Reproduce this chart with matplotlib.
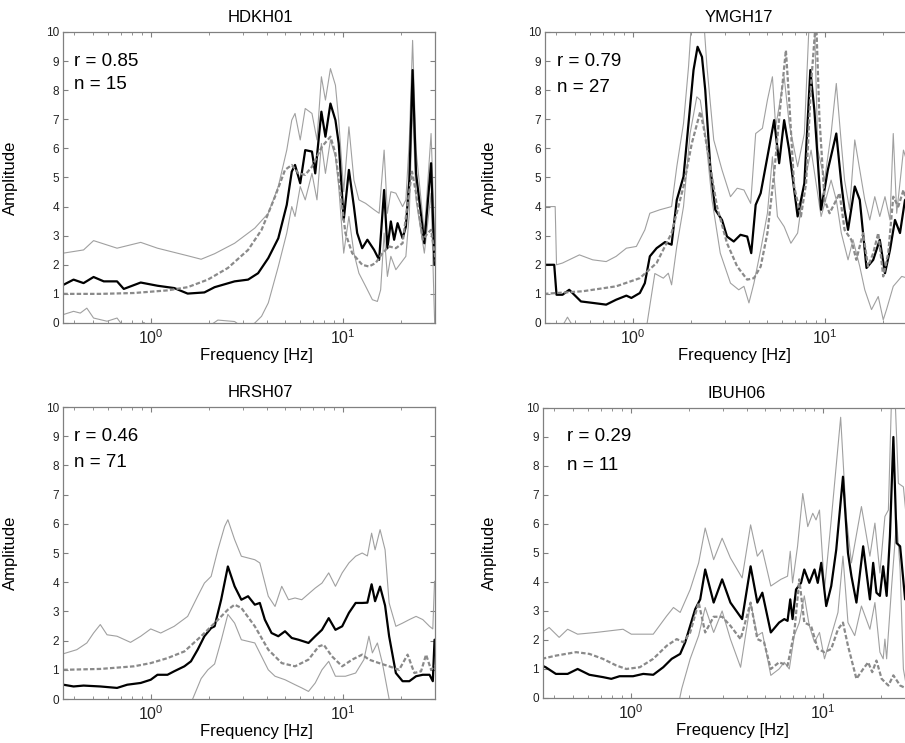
import numpy as np
import matplotlib
matplotlib.use("Agg")
import matplotlib.pyplot as plt
from matplotlib.ticker import LogLocator, NullFormatter

plt.rcParams["font.family"] = ["Liberation Sans", "DejaVu Sans"]

#   station names and statistics shown in each panel
stations = ["HDKH01", "YMGH17", "HRSH07", "IBUH06"]
r_values = [0.85, 0.79, 0.46, 0.29]
n_values = [15, 27, 71, 11]

#   curves as (log10 frequency [Hz], amplitude) pairs
#   mean = observed mean, upper/lower = mean +/- sigma, model = theoretical
hd_mean = [(-0.454, 1.31), (-0.401, 1.49), (-0.349, 1.37), (-0.297, 1.58), (-0.244, 1.43), (-0.175, 1.43),
           (-0.140, 1.17), (-0.052, 1.39), (0.035, 1.28), (0.122, 1.20), (0.192, 1.01), (0.279, 1.05),
           (0.332, 1.23), (0.436, 1.43), (0.506, 1.49), (0.558, 1.71), (0.611, 2.23), (0.663, 2.91),
           (0.707, 4.06), (0.733, 5.20), (0.750, 5.43), (0.777, 4.80), (0.803, 5.94), (0.838, 5.89),
           (0.855, 5.14), (0.887, 7.26), (0.908, 6.40), (0.934, 7.54), (0.960, 6.97), (0.977, 6.17),
           (1.003, 3.54), (1.030, 5.26), (1.056, 4.00), (1.073, 3.09), (1.099, 2.57), (1.126, 2.86),
           (1.161, 2.51), (1.187, 2.17), (1.213, 4.57), (1.230, 2.57), (1.248, 3.49), (1.265, 2.86),
           (1.283, 3.43), (1.309, 2.91), (1.326, 3.31), (1.344, 4.91), (1.361, 8.69), (1.379, 5.14),
           (1.422, 2.74), (1.457, 5.49), (1.475, 2.00), (1.492, 2.00)]
hd_upper = [(-0.454, 2.40), (-0.349, 2.51), (-0.297, 2.83), (-0.175, 2.57), (-0.052, 2.77), (0.035, 2.57),
            (0.192, 2.31), (0.262, 2.19), (0.332, 2.38), (0.436, 2.74), (0.541, 3.26), (0.611, 3.77),
            (0.663, 4.69), (0.707, 5.94), (0.733, 6.97), (0.750, 7.20), (0.777, 6.29), (0.803, 7.37),
            (0.838, 7.20), (0.864, 6.29), (0.887, 8.46), (0.908, 7.66), (0.934, 8.74), (0.960, 8.17),
            (0.977, 6.97), (1.003, 4.51), (1.030, 6.74), (1.056, 4.91), (1.082, 4.23), (1.117, 4.11),
            (1.161, 3.89), (1.187, 3.77), (1.213, 5.94), (1.230, 3.77), (1.248, 4.51), (1.274, 4.46),
            (1.309, 4.00), (1.326, 4.23), (1.344, 6.29), (1.361, 9.71), (1.379, 5.94), (1.422, 3.09),
            (1.457, 6.51), (1.475, 3.09), (1.492, 1.14)]
hd_lower = [(-0.454, 0.29), (-0.401, 0.40), (-0.366, 0.34), (-0.332, 0.51), (-0.297, 0.17), (-0.227, 0.06),
            (-0.175, 0.17), (-0.122, -0.30), (-0.035, 0.02), (0.000, -0.30), (0.122, -0.50), (0.262, -0.30),
            (0.349, 0.10), (0.436, 0.05), (0.489, -0.20), (0.541, 0.00), (0.576, 0.23), (0.611, 0.69),
            (0.663, 1.94), (0.707, 3.09), (0.733, 4.00), (0.750, 3.66), (0.777, 4.69), (0.803, 4.23),
            (0.838, 5.14), (0.864, 4.23), (0.887, 6.17), (0.908, 5.14), (0.934, 6.29), (0.960, 5.71),
            (0.977, 4.69), (1.003, 2.40), (1.030, 3.66), (1.056, 2.40), (1.082, 1.71), (1.117, 1.26),
            (1.152, 0.80), (1.178, 0.74), (1.195, 1.14), (1.213, 3.09), (1.230, 1.60), (1.248, 2.29),
            (1.274, 1.83), (1.300, 2.06), (1.326, 2.29), (1.344, 3.77), (1.361, 7.54), (1.379, 4.23),
            (1.422, 2.40), (1.457, 4.46), (1.471, 1.03), (1.478, -0.50), (1.492, -0.50)]
hd_model = [(-0.454, 1.00), (-0.262, 1.00), (-0.087, 1.03), (0.087, 1.12), (0.192, 1.23), (0.297, 1.49),
            (0.401, 1.89), (0.506, 2.51), (0.576, 3.20), (0.646, 4.34), (0.698, 5.26), (0.733, 5.43),
            (0.768, 5.14), (0.803, 5.09), (0.838, 5.37), (0.890, 6.06), (0.934, 6.40), (0.960, 5.83),
            (0.986, 4.46), (1.012, 3.09), (1.047, 2.40), (1.099, 2.00), (1.134, 1.94), (1.169, 2.06),
            (1.204, 2.40), (1.239, 2.63), (1.274, 2.57), (1.309, 2.74), (1.335, 4.11), (1.358, 5.20),
            (1.379, 4.46), (1.414, 2.86), (1.440, 3.09), (1.457, 3.20), (1.475, 2.40), (1.492, 1.71)]

ym_mean = [(-0.461, 2.00), (-0.408, 2.00), (-0.396, 0.97), (-0.365, 0.97), (-0.330, 1.14), (-0.304, 0.97),
           (-0.269, 0.74), (-0.208, 0.69), (-0.138, 0.63), (-0.086, 0.80), (-0.033, 0.94), (-0.007, 0.86),
           (0.037, 1.03), (0.063, 1.37), (0.089, 2.29), (0.124, 2.57), (0.168, 2.78), (0.202, 2.69),
           (0.229, 4.23), (0.264, 5.03), (0.290, 6.86), (0.316, 8.69), (0.337, 9.49), (0.360, 9.14),
           (0.377, 8.00), (0.403, 5.37), (0.429, 3.89), (0.464, 3.54), (0.490, 2.97), (0.525, 2.80),
           (0.560, 3.03), (0.595, 2.97), (0.616, 2.40), (0.639, 4.06), (0.665, 4.46), (0.700, 5.71),
           (0.735, 6.97), (0.761, 5.49), (0.787, 6.97), (0.813, 5.94), (0.857, 3.66), (0.892, 4.80),
           (0.923, 8.69), (0.944, 7.31), (0.979, 3.89), (1.014, 5.26), (1.058, 6.51), (1.084, 4.80),
           (1.101, 3.89), (1.119, 3.20), (1.154, 4.69), (1.180, 4.23), (1.215, 1.89), (1.250, 2.17),
           (1.284, 2.86), (1.311, 1.71), (1.337, 2.51), (1.363, 3.54), (1.389, 3.09), (1.415, 4.23),
           (1.450, 3.80), (1.480, 3.50)]
ym_upper = [(-0.461, 4.00), (-0.403, 4.00), (-0.396, 2.00), (-0.365, 2.06), (-0.277, 2.34), (-0.208, 2.17),
            (-0.138, 2.11), (-0.086, 2.29), (-0.033, 2.57), (0.019, 2.63), (0.063, 3.20), (0.089, 3.77),
            (0.141, 3.89), (0.202, 4.00), (0.229, 5.37), (0.264, 6.86), (0.290, 8.80), (0.307, 10.5),
            (0.368, 10.5), (0.386, 8.80), (0.421, 6.29), (0.464, 5.26), (0.508, 4.34), (0.543, 4.63),
            (0.578, 4.57), (0.613, 4.11), (0.639, 6.51), (0.674, 6.69), (0.700, 7.66), (0.726, 8.46),
            (0.743, 6.74), (0.787, 8.46), (0.813, 6.86), (0.857, 5.37), (0.892, 6.51), (0.918, 10.5),
            (0.944, 10.5), (0.962, 5.94), (0.997, 4.91), (1.031, 6.51), (1.058, 8.23), (1.084, 6.17),
            (1.101, 4.91), (1.127, 3.90), (1.154, 6.29), (1.206, 4.23), (1.232, 3.54), (1.258, 4.34),
            (1.284, 3.66), (1.311, 4.34), (1.337, 3.54), (1.354, 6.51), (1.372, 3.77), (1.407, 5.94),
            (1.450, 5.00), (1.480, 4.50)]
ym_lower = [(-0.461, -0.50), (-0.365, -0.10), (-0.339, 0.20), (-0.312, -0.10), (-0.260, -0.50), (0.045, -0.50),
            (0.075, 0.00), (0.115, 1.70), (0.159, 1.54), (0.185, 1.71), (0.202, 1.31), (0.229, 2.63),
            (0.264, 4.00), (0.298, 6.51), (0.333, 7.77), (0.351, 7.66), (0.377, 6.51), (0.412, 4.23),
            (0.455, 2.40), (0.508, 1.37), (0.551, 1.14), (0.578, 1.26), (0.604, 0.69), (0.630, 1.37),
            (0.665, 2.51), (0.700, 3.77), (0.726, 5.71), (0.752, 3.66), (0.787, 3.31), (0.822, 2.74),
            (0.857, 3.09), (0.892, 4.80), (0.927, 5.94), (0.979, 3.66), (1.031, 4.91), (1.058, 4.23),
            (1.084, 3.09), (1.119, 2.17), (1.145, 2.86), (1.180, 1.94), (1.206, 1.14), (1.241, 0.46),
            (1.276, 0.91), (1.302, 0.11), (1.319, 0.46), (1.354, 1.26), (1.398, 1.60), (1.450, 1.50),
            (1.480, 1.20)]
ym_model = [(-0.461, 1.00), (-0.260, 1.09), (-0.086, 1.26), (0.037, 1.54), (0.124, 2.06), (0.202, 3.09),
            (0.264, 4.69), (0.307, 6.17), (0.351, 7.26), (0.368, 6.74), (0.403, 5.37), (0.438, 4.00),
            (0.490, 2.74), (0.543, 1.94), (0.595, 1.49), (0.630, 1.54), (0.665, 1.94), (0.700, 3.09),
            (0.735, 5.14), (0.770, 7.66), (0.796, 9.37), (0.813, 7.66), (0.839, 4.69), (0.874, 3.66),
            (0.901, 4.80), (0.927, 8.23), (0.953, 10.5), (0.970, 7.09), (0.997, 4.23), (1.023, 3.77),
            (1.049, 4.11), (1.075, 4.46), (1.101, 3.20), (1.136, 2.86), (1.162, 2.17), (1.197, 3.09),
            (1.223, 1.94), (1.250, 2.40), (1.276, 3.09), (1.302, 1.60), (1.328, 2.40), (1.354, 4.34),
            (1.380, 4.00), (1.407, 4.57), (1.450, 3.50), (1.480, 3.00)]

hr_mean = [(-0.454, 0.49), (-0.401, 0.43), (-0.349, 0.46), (-0.262, 0.43), (-0.175, 0.38), (-0.122, 0.49),
           (-0.052, 0.55), (0.000, 0.66), (0.035, 0.83), (0.087, 0.83), (0.122, 0.95), (0.175, 1.12),
           (0.209, 1.29), (0.244, 1.69), (0.279, 2.15), (0.314, 2.43), (0.332, 2.49), (0.366, 3.40),
           (0.401, 4.54), (0.436, 3.86), (0.471, 3.40), (0.506, 3.52), (0.541, 3.23), (0.567, 3.29),
           (0.593, 2.72), (0.628, 2.26), (0.663, 2.15), (0.698, 2.32), (0.733, 2.09), (0.768, 2.03),
           (0.820, 1.92), (0.855, 2.15), (0.890, 2.37), (0.925, 2.77), (0.960, 2.37), (0.995, 2.49),
           (1.030, 2.95), (1.065, 3.29), (1.099, 3.29), (1.126, 3.30), (1.148, 3.93), (1.166, 3.35),
           (1.192, 3.85), (1.218, 3.20), (1.239, 2.15), (1.274, 0.89), (1.309, 0.61), (1.344, 0.61),
           (1.379, 0.78), (1.414, 0.83), (1.449, 0.83), (1.466, 0.61), (1.475, 2.03), (1.492, 2.03)]
hr_upper = [(-0.454, 1.55), (-0.384, 1.69), (-0.332, 1.92), (-0.297, 2.26), (-0.262, 2.55), (-0.227, 2.20),
            (-0.175, 2.15), (-0.105, 1.94), (-0.052, 2.15), (0.000, 2.40), (0.052, 2.26), (0.122, 2.49),
            (0.192, 2.83), (0.244, 3.52), (0.279, 3.97), (0.314, 4.20), (0.349, 5.11), (0.384, 5.91),
            (0.401, 6.14), (0.436, 5.46), (0.471, 4.89), (0.506, 4.83), (0.541, 4.77), (0.567, 4.66),
            (0.611, 3.52), (0.646, 3.17), (0.681, 3.86), (0.716, 3.40), (0.750, 3.46), (0.785, 3.40),
            (0.855, 3.80), (0.890, 3.97), (0.925, 4.32), (0.960, 3.86), (0.995, 4.32), (1.030, 4.66),
            (1.065, 4.89), (1.099, 5.00), (1.126, 4.90), (1.148, 5.68), (1.166, 5.11), (1.192, 5.80),
            (1.218, 5.11), (1.239, 3.29), (1.274, 2.49), (1.309, 2.60), (1.344, 2.72), (1.379, 2.83),
            (1.414, 2.72), (1.449, 2.49), (1.466, 2.40), (1.475, 4.03), (1.492, 4.03)]
hr_lower = [(0.175, -0.50), (0.218, 0.00), (0.262, 0.70), (0.297, 1.00), (0.332, 1.20), (0.366, 2.00),
            (0.401, 2.90), (0.436, 2.60), (0.471, 2.03), (0.541, 1.92), (0.576, 1.46), (0.611, 1.00),
            (0.646, 0.78), (0.698, 0.66), (0.750, 0.49), (0.785, 0.38), (0.820, 0.26), (0.855, 0.55),
            (0.890, 1.00), (0.925, 1.29), (0.960, 0.78), (1.012, 0.78), (1.065, 0.89), (1.108, 1.35),
            (1.134, 2.15), (1.152, 1.58), (1.178, 1.92), (1.204, 1.23), (1.239, 0.00), (1.257, -0.50)]
hr_model = [(-0.454, 1.00), (-0.262, 1.03), (-0.087, 1.12), (0.000, 1.23), (0.087, 1.40), (0.175, 1.63),
            (0.262, 2.15), (0.332, 2.60), (0.401, 3.06), (0.436, 3.23), (0.471, 3.12), (0.541, 2.49),
            (0.611, 1.69), (0.681, 1.23), (0.750, 1.12), (0.820, 1.35), (0.873, 1.80), (0.899, 1.86),
            (0.942, 1.46), (0.995, 1.12), (1.047, 1.35), (1.099, 1.52), (1.134, 1.35), (1.187, 1.23),
            (1.239, 1.12), (1.291, 1.00), (1.335, 1.52), (1.370, 0.89), (1.405, 0.95), (1.431, 1.52),
            (1.457, 1.00), (1.475, 1.12), (1.492, 1.23)]

ib_mean = [(-0.462, 1.12), (-0.442, 1.06), (-0.389, 0.83), (-0.328, 0.83), (-0.276, 1.00), (-0.215, 0.80),
           (-0.145, 0.72), (-0.101, 0.66), (-0.058, 0.75), (0.012, 0.75), (0.065, 0.83), (0.117, 0.80),
           (0.169, 1.06), (0.213, 1.35), (0.257, 1.52), (0.283, 1.92), (0.309, 2.49), (0.335, 3.06),
           (0.361, 3.40), (0.387, 4.43), (0.431, 3.29), (0.475, 4.09), (0.518, 3.29), (0.579, 2.72),
           (0.623, 4.54), (0.658, 3.29), (0.684, 3.63), (0.728, 2.26), (0.771, 2.60), (0.798, 2.72),
           (0.815, 2.66), (0.829, 3.40), (0.841, 2.72), (0.859, 3.74), (0.885, 3.97), (0.902, 4.43),
           (0.928, 3.97), (0.955, 4.43), (0.972, 3.97), (0.990, 4.66), (1.016, 3.17), (1.042, 3.86),
           (1.068, 5.11), (1.103, 7.63), (1.129, 5.00), (1.147, 4.20), (1.173, 3.29), (1.208, 5.23),
           (1.243, 3.40), (1.260, 4.66), (1.277, 3.63), (1.295, 3.52), (1.312, 4.54), (1.330, 3.52),
           (1.347, 5.57), (1.365, 9.00), (1.382, 5.34), (1.400, 5.23), (1.426, 3.40), (1.450, 3.60),
           (1.480, 4.00)]
ib_upper = [(-0.462, 2.26), (-0.424, 2.43), (-0.372, 2.09), (-0.328, 2.37), (-0.276, 2.20), (-0.180, 2.26),
            (-0.040, 2.37), (0.003, 2.20), (0.065, 2.20), (0.117, 2.20), (0.187, 2.83), (0.222, 3.12),
            (0.257, 2.95), (0.309, 3.74), (0.353, 4.66), (0.387, 5.86), (0.431, 4.77), (0.475, 5.51),
            (0.518, 4.83), (0.579, 4.14), (0.623, 5.97), (0.658, 4.89), (0.684, 5.11), (0.728, 3.86),
            (0.780, 4.09), (0.815, 4.20), (0.829, 5.06), (0.841, 3.97), (0.867, 5.23), (0.894, 7.05),
            (0.920, 5.91), (0.946, 6.37), (0.963, 6.14), (0.981, 6.48), (1.007, 3.74), (1.042, 6.14),
            (1.091, 9.68), (1.120, 6.26), (1.147, 4.66), (1.199, 6.60), (1.243, 4.89), (1.269, 6.03),
            (1.295, 4.31), (1.321, 6.26), (1.339, 6.48), (1.356, 10.5), (1.373, 10.5), (1.391, 7.40),
            (1.417, 7.28), (1.435, 6.03), (1.460, 5.50), (1.480, 5.00)]
ib_lower = [(0.239, -0.50), (0.265, 0.32), (0.309, 1.35), (0.353, 2.15), (0.387, 3.12), (0.431, 2.26),
            (0.475, 3.00), (0.518, 2.03), (0.571, 1.06), (0.623, 3.29), (0.658, 2.15), (0.684, 2.26),
            (0.728, 0.78), (0.771, 1.00), (0.798, 1.23), (0.824, 1.00), (0.850, 2.15), (0.876, 2.60),
            (0.902, 3.52), (0.928, 2.49), (0.955, 1.92), (0.981, 2.26), (1.007, 1.35), (1.042, 2.15),
            (1.077, 2.95), (1.103, 4.89), (1.129, 2.60), (1.164, 2.15), (1.199, 3.17), (1.243, 2.37),
            (1.269, 3.29), (1.295, 1.58), (1.312, 1.35), (1.321, 2.03), (1.330, 1.35), (1.356, 3.86),
            (1.382, 6.14), (1.400, 4.43), (1.417, 1.00), (1.435, 0.32), (1.460, 0.20)]
ib_model = [(-0.462, 1.35), (-0.389, 1.46), (-0.284, 1.58), (-0.215, 1.52), (-0.145, 1.35), (-0.075, 1.12),
            (-0.023, 1.00), (0.047, 1.06), (0.117, 1.35), (0.187, 1.80), (0.239, 2.03), (0.274, 1.92),
            (0.309, 2.26), (0.353, 3.29), (0.387, 2.26), (0.431, 2.80), (0.475, 2.80), (0.518, 2.49),
            (0.571, 2.03), (0.623, 3.29), (0.658, 2.03), (0.693, 1.92), (0.728, 1.00), (0.771, 1.23),
            (0.815, 1.12), (0.850, 2.26), (0.876, 4.09), (0.902, 2.60), (0.937, 2.49), (0.972, 1.69),
            (1.007, 1.58), (1.042, 1.69), (1.077, 2.37), (1.103, 2.60), (1.129, 1.80), (1.173, 0.66),
            (1.208, 1.00), (1.234, 1.23), (1.255, 0.89), (1.277, 1.29), (1.304, 0.66), (1.339, 0.43),
            (1.365, 0.78), (1.400, 0.43), (1.435, 0.32), (1.460, 0.40)]

panels = [(hd_mean, hd_upper, hd_lower, hd_model),
          (ym_mean, ym_upper, ym_lower, ym_model),
          (hr_mean, hr_upper, hr_lower, hr_model),
          (ib_mean, ib_upper, ib_lower, ib_model)]

#   axes rectangles in figure fractions; right column runs past the image edge (cropped like the original)
rects = [[0.0696, 0.5653, 0.4110, 0.3917], [0.6022, 0.5653, 0.4110, 0.3917],
         [0.0696, 0.0592, 0.4110, 0.3930], [0.6000, 0.0606, 0.4110, 0.3903]]
title_x = [0.53, 0.52, 0.53, 0.52]
text_x = [0.03, 0.032, 0.03, 0.065]
n_y = [0.818, 0.808, 0.81, 0.80]
ylab_x = [-0.121, -0.129, -0.121, -0.124]


def curve(pairs):
    arr = np.array(pairs)
    return 10 ** arr[:, 0], arr[:, 1]


fig = plt.figure(figsize=(9.05, 7.43), dpi=100)

for i, (mean, upper, lower, model) in enumerate(panels):
    ax = fig.add_axes(rects[i])

    for band in (upper, lower):
        f, a = curve(band)
        ax.plot(f, a, color="#a0a0a0", lw=0.8)
    f, a = curve(mean)
    ax.plot(f, a, color="black", lw=1.6)
    f, a = curve(model)
    ax.plot(f, a, color="#8a8a8a", lw=1.6, dashes=(2.0, 1.0))

    ax.set_xscale("log")
    ax.set_xlim(0.35, 30)
    ax.set_ylim(0, 10)
    ax.set_yticks(range(11))
    ax.xaxis.set_major_locator(LogLocator(base=10))
    ax.xaxis.set_minor_locator(LogLocator(base=10, subs=range(2, 10)))
    ax.xaxis.set_minor_formatter(NullFormatter())

    for sp in ax.spines.values():
        sp.set_color("#808080")
        sp.set_linewidth(0.9)
    ax.tick_params(which="both", direction="in", top=True, right=True, color="#808080")
    ax.tick_params(which="major", length=3.5)
    ax.tick_params(which="minor", length=2.2)
    ax.tick_params(axis="y", labelsize=8.5, labelcolor="#222222", pad=3)
    ax.tick_params(axis="x", labelsize=11.5, labelcolor="#222222", pad=4)

    ax.text(title_x[i], 1.025, stations[i], transform=ax.transAxes, ha="center", va="bottom", fontsize=12)
    ax.set_xlabel("Frequency [Hz]", fontsize=12)
    ax.xaxis.set_label_coords(title_x[i] - 0.01, -0.085)
    ax.set_ylabel("Amplitude", fontsize=12)
    ax.yaxis.set_label_coords(ylab_x[i], 0.5)

    ax.text(text_x[i], 0.90, "r = %.2f" % r_values[i], transform=ax.transAxes,
            ha="left", va="center", fontsize=13.5)
    ax.text(text_x[i], n_y[i], "n = %d" % n_values[i], transform=ax.transAxes,
            ha="left", va="center", fontsize=13.5)

fig.savefig("out.png", dpi=100)
